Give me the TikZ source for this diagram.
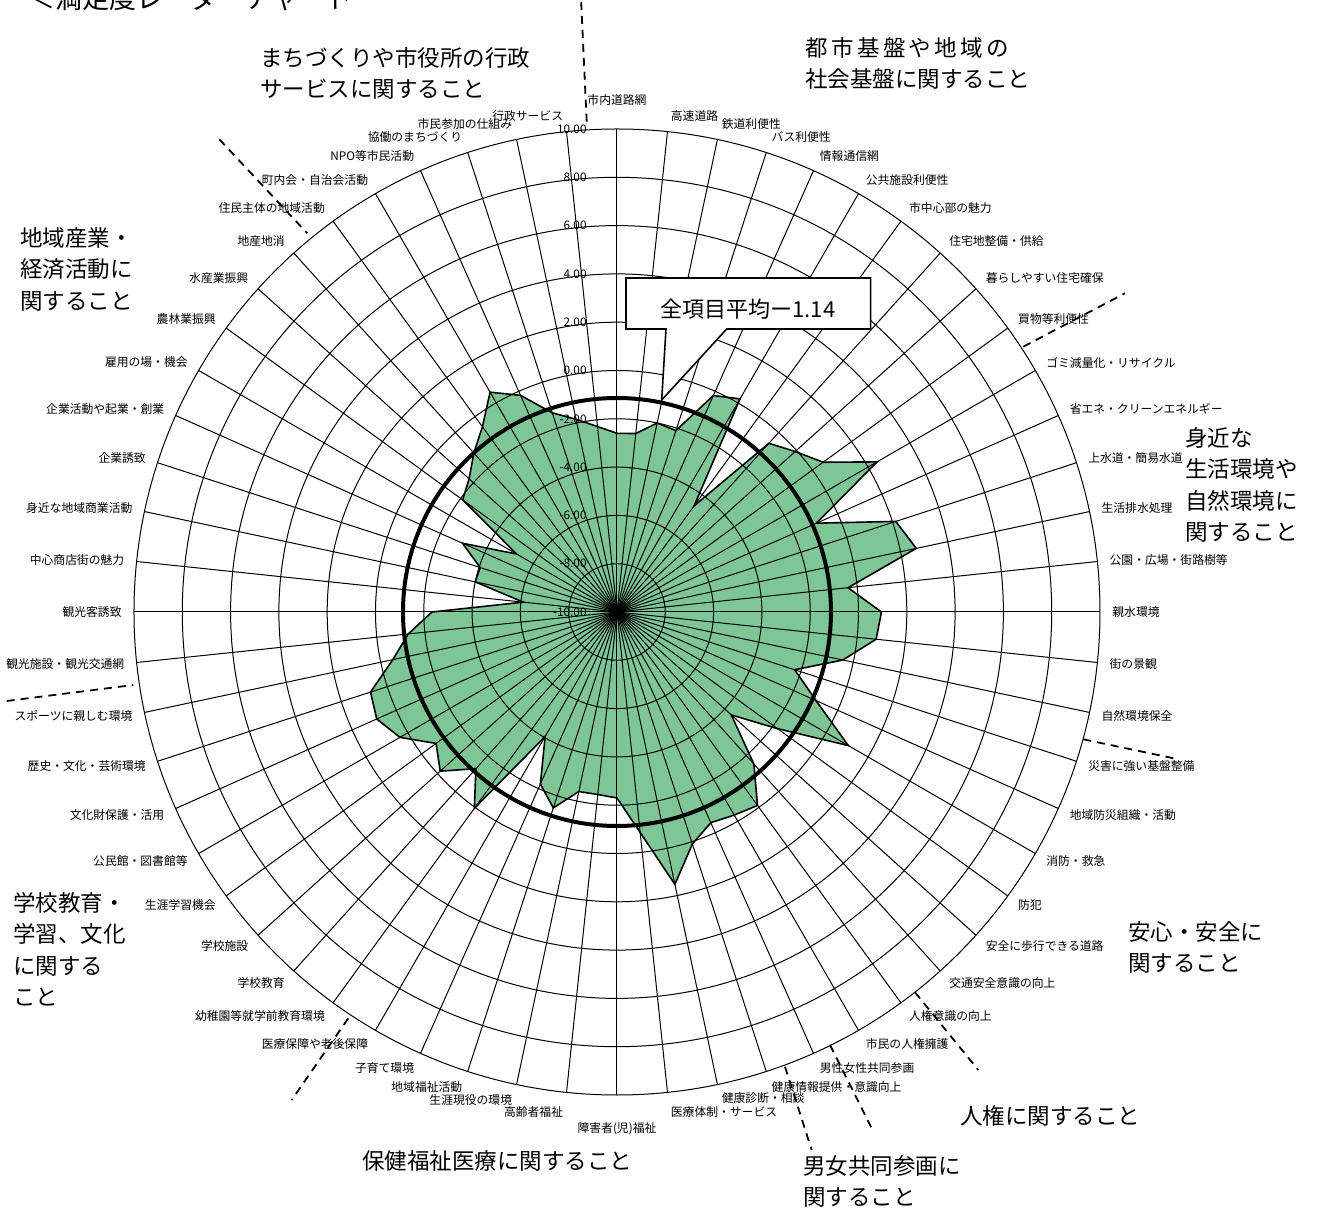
\documentclass[tikz,border=0pt]{standalone}
\usepackage{fontspec}
\setmainfont{Noto Sans CJK JP}
\usetikzlibrary{positioning}
\definecolor{radargreen}{RGB}{127,198,150}
% satisfaction values, items 2 to 60 (item 1 is -2.6)
\newcommand{\satvalues}{-2.57,-2.0,-2.1,-0.19,0.19,-4.57,-0.6,-0.07,0.55,
  2.43,-0.96,2.14,2.67,-0.38,0.95,0.79,-0.44,-2.26,-0.98,
  1.06,-1.78,-3.63,-1.53,-0.1,-0.29,-0.45,0.1,1.53,-0.82,
  -2.3,-2.4,-2.4,-1.47,-2.2,-4.05,0.05,-1.27,-0.15,-0.74,
  0.38,0.89,0.73,-0.51,-1.31,-2.34,-6.1,-4.0,-4.04,-3.0,
  -5.2,-2.1,-1.76,-1.14,-0.52,0.51,-0.18,-1.33,-1.84,-2.28}

\begin{document}
\begin{tikzpicture}[x=0.5pt, y=0.5pt,
    gridline/.style={black, line width=0.5pt},
    datapoly/.style={black, line width=0.8pt},
    avgline/.style={black, line width=2pt},
    sectdash/.style={black, line width=0.9pt, dash pattern=on 4pt off 3pt},
    itemlbl/.style={inner sep=1pt, font=\fontsize{5.9pt}{7pt}\selectfont},
    ringlbl/.style={inner sep=0pt, anchor=east, font=\fontsize{5.9pt}{7pt}\selectfont},
    sectlbl/.style={inner sep=0pt, anchor=north west, align=left,
      font=\fontsize{11.25pt}{15.75pt}\selectfont}]
    \useasboundingbox (-617,-603) rectangle (707,612);

    % green area first, grid on top of it
    \fill[radargreen] (90:178.7) \foreach \v [count=\i] in \satvalues { -- ({90-6*\i}:{(\v+10)*24.15}) } -- cycle;

    \foreach \k in {1,...,10}
      \draw[gridline] (0,0) circle ({48.3*\k});
    \foreach \i in {0,...,59}
      \draw[gridline] (0,0) -- ({90-6*\i}:483);

    \foreach \v [count=\k from 0] in {-10.00,-8.00,-6.00,-4.00,-2.00,0.00,2.00,4.00,6.00,8.00,10.00}
      \node[ringlbl] (ring\k) at (-30,{48.3*\k}) {\v};

    \draw[datapoly] (90:178.7) \foreach \v [count=\i] in \satvalues { -- ({90-6*\i}:{(\v+10)*24.15}) } -- cycle;

    % average of all items
    \draw[avgline] (0,0) circle (214);

    % item labels
    \foreach \lbl [count=\i from 0] in {市内道路網,高速道路,鉄道利便性,バス利便性,情報通信網,
        公共施設利便性,市中心部の魅力,住宅地整備・供給,暮らしやすい住宅確保,買物等利便性,
        ゴミ減量化・リサイクル,省エネ・クリーンエネルギー,上水道・簡易水道,生活排水処理,公園・広場・街路樹等,
        親水環境,街の景観,自然環境保全,災害に強い基盤整備,地域防災組織・活動,
        消防・救急,防犯,安全に歩行できる道路,交通安全意識の向上,人権意識の向上,
        市民の人権擁護,男性女性共同参画,健康情報提供・意識向上,健康診断・相談,医療体制・サービス,
        障害者(児)福祉,高齢者福祉,生涯現役の環境,地域福祉活動,子育て環境,
        医療保障や老後保障,幼稚園等就学前教育環境,学校教育,学校施設,生涯学習機会,
        公民館・図書館等,文化財保護・活用,歴史・文化・芸術環境,スポーツに親しむ環境,観光施設・観光交通網,
        観光客誘致,中心商店街の魅力,身近な地域商業活動,企業誘致,企業活動や起業・創業,
        雇用の場・機会,農林業振興,水産業振興,地産地消,住民主体の地域活動,
        町内会・自治会活動,NPO等市民活動,協働のまちづくり,市民参加の仕組み,行政サービス}{
      \pgfmathsetmacro\ang{90-6*\i}
      \pgfmathsetmacro\dy{ifthenelse(\i==29||\i==31,-2,0)+ifthenelse(\i==28,1,0)}
      \ifnum\i=0
        \node[itemlbl, anchor=south] (item\i) at (90:504) {\lbl};
      \else\ifnum\i=30
        \node[itemlbl, anchor=north] (item\i) at (-90:508) {\lbl};
      \else\ifnum\i<30
        \node[itemlbl, anchor=west, yshift={(3*sin(\ang)+\dy)*1pt}] (item\i) at (\ang:493) {\lbl};
      \else
        \node[itemlbl, anchor=east, yshift={(3*sin(\ang)+\dy)*1pt}] (item\i) at (\ang:493) {\lbl};
      \fi\fi\fi
    }

    % section borders
    \draw[sectdash] (-30.3,490.3) -- (-36,614);
    \draw[sectdash] (-397.7,472.7) -- (-309.7,378.7);
    \draw[sectdash] (406.3,265.3) -- (508,318.7);
    \draw[sectdash] (466.3,-127.3) -- (560,-147);
    \draw[sectdash] (298,-380.3) -- (361.3,-458);
    \draw[sectdash] (213,-433) -- (254.7,-516.3);
    \draw[sectdash] (168,-454.7) -- (194.7,-538);
    \draw[sectdash] (-268.7,-406.3) -- (-325.3,-488);
    \draw[sectdash] (-610.3,-89) -- (-483.7,-73);

    % section names
    \node[sectlbl] (secgov) at (-357,565) {まちづくりや市役所の行政\\サービスに関すること};
    \node[sectlbl] (secinfra) at (188,575) {{\addfontfeature{LetterSpace=15}都市基盤や地域の}\\社会基盤に関すること};
    \node[sectlbl] (sececon) at (-597,385) {地域産業・\\経済活動に\\関すること};
    \node[sectlbl] (secenv) at (568,185) {身近な\\生活環境や\\自然環境に\\関すること};
    \node[sectlbl] (secsafe) at (511,-309) {安心・安全に\\関すること};
    \node[sectlbl] (secrights) at (343,-493) {人権に関すること};
    \node[sectlbl] (secgender) at (186,-543) {男女共同参画に\\関すること};
    \node[sectlbl] (secwelfare) at (-255,-538) {保健福祉医療に関すること};
    \node[sectlbl] (secedu) at (-604,-280) {学校教育・\\学習、文化\\に関する\\こと};

    % callout
    \coordinate (avgtip) at (44.7,212);
    \draw[line width=0.8pt, fill=white] (9,334) -- (253.7,334) -- (253.7,283) -- (109.7,283)
      -- (avgtip) -- (49,283) -- (9,283) -- cycle;
    \node[inner sep=0pt, font=\fontsize{11pt}{13pt}\selectfont] (avgnote) at (131,303) {全項目平均ー1.14};

    \node[anchor=base west, inner sep=0pt, font=\fontsize{13.5pt}{16pt}\selectfont] (title) at (-589,603) {＜満足度レーダーチャート};
\end{tikzpicture}
\end{document}
